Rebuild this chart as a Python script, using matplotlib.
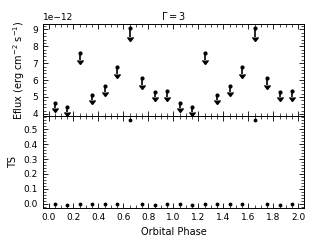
import matplotlib
matplotlib.use("Agg")
import matplotlib.pyplot as plt
from matplotlib.ticker import AutoMinorLocator, MultipleLocator
import numpy as np

phase = [0.05, 0.15, 0.25, 0.35, 0.45, 0.55, 0.65, 0.75, 0.85, 0.95,
         1.05, 1.15, 1.25, 1.35, 1.45, 1.55, 1.65, 1.75, 1.85, 1.95]
eflux_ul = [4.63, 4.39, 7.63, 5.12, 5.65, 6.78, 9.10, 6.10, 5.31, 5.35,
            4.63, 4.39, 7.63, 5.12, 5.65, 6.78, 9.10, 6.10, 5.31, 5.35]
ts = [0.0, -0.01, 0.0, 0.0, 0.0, 0.0, 0.56, 0.0, -0.012, 0.0,
      0.0, -0.01, 0.0, 0.0, 0.0, 0.0, 0.56, 0.0, -0.012, 0.0]
ul_frac = 0.06

plt.rcParams['font.size'] = 6.5
fig = plt.figure(figsize=(3.2, 2.4), dpi=100)
ax1 = fig.add_axes([0.134, 0.517, 0.816, 0.383])
ax2 = fig.add_axes([0.134, 0.133, 0.816, 0.384], sharex=ax1)

y = np.array(eflux_ul) * 1e-12
cont = ax1.errorbar(phase, y, yerr=ul_frac * y, uplims=True, fmt='.', color='k',
                    ms=4, elinewidth=1.2, capsize=2.0)
for cl in cont[1]:
    if cl.get_marker() == '_':
        cl.set_visible(False)
ax1.set_ylim(3.88e-12, 9.32e-12)
ax1.set_ylabel('Eflux (erg cm$^{-2}$ s$^{-1}$)', fontsize=7)
ax1.set_title('$\\Gamma = 3$', fontsize=7, pad=3)
ax1.yaxis.set_major_locator(MultipleLocator(1e-12))

ax2.plot(phase, ts, '.', color='k', ms=3.5)
ax2.set_ylim(-0.03, 0.59)
ax2.set_ylabel('TS', fontsize=7)
ax2.set_xlabel('Orbital Phase', fontsize=7)
ax2.yaxis.set_major_locator(MultipleLocator(0.1))
ax2.xaxis.set_major_locator(MultipleLocator(0.2))
ax2.set_xlim(-0.045, 2.045)

for ax in (ax1, ax2):
    ax.xaxis.set_minor_locator(AutoMinorLocator())
    ax.yaxis.set_minor_locator(AutoMinorLocator())
    ax.tick_params(which='both', direction='in', top=True, right=True)
    ax.tick_params(which='major', length=3.5, width=0.6)
    ax.tick_params(which='minor', length=2, width=0.5)
    for s in ax.spines.values():
        s.set_linewidth(0.7)
ax1.tick_params(labelbottom=False)
ax1.yaxis.get_offset_text().set_fontsize(6.5)

fig.savefig('out.png', dpi=100)
